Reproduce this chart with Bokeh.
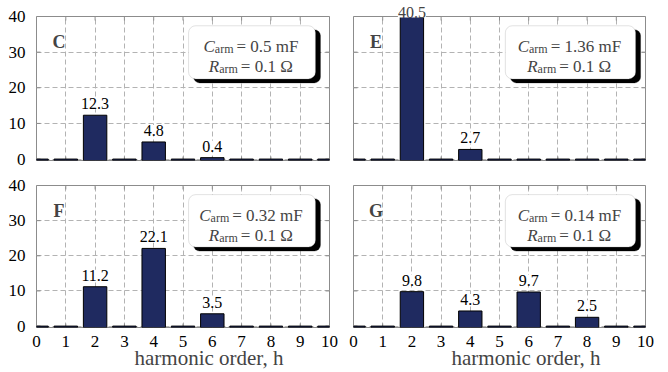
import numpy as np
from bokeh.plotting import figure
from bokeh.models import (ColumnDataSource, LabelSet, Label, BoxAnnotation,
                          FixedTicker, Range1d)
from bokeh.layouts import gridplot
from bokeh.embed import file_html
from bokeh.resources import INLINE
from bokeh.core.properties import value

# ---------------- data ----------------
harmonics = list(range(11))
y_ticks = [0, 10, 20, 30, 40]

panel_names = ["C", "E", "F", "G"]
c_arm = ["0.5", "1.36", "0.32", "0.14"]
r_arm = ["0.1", "0.1", "0.1", "0.1"]

amp_C = [0, 0, 12.3, 0, 4.8, 0, 0.4, 0, 0, 0, 0]
amp_E = [0, 0, 40.5, 0, 2.7, 0, 0, 0, 0, 0, 0]
amp_F = [0, 0, 11.2, 0, 22.1, 0, 3.5, 0, 0, 0, 0]
amp_G = [0, 0, 9.8, 0, 4.3, 0, 9.7, 0, 2.5, 0, 0]
amps_all = [amp_C, amp_E, amp_F, amp_G]

x_title = "harmonic order, h"

# ---------------- style ----------------
SERIF = "Liberation Serif"          # annotations
SERIF_Q = "'Liberation Serif'"      # axes and titles need the quoted name
BAR_FILL = "#1f2a60"
GRID = "#b3b3b3"
FRAME = "#8c8c8c"
BOX_LINE = "#a0a0a0"

X_MIN, X_MAX = 0, 10
Y_MIN, Y_MAX = -0.4, 40
TICK_LEN = 4

col_geom = [dict(width=338, left=36, right=9), dict(width=330, left=15, right=23)]
row_geom = [dict(height=172, top=16, bottom=12), dict(height=200, top=13, bottom=45)]

box_x = [(5.19, 9.52), (5.2, 9.66), (5.19, 9.52), (5.2, 9.66)]
BOX_Y = (22.5, 37.4)

EM = {str(d): 0.5 for d in range(10)}
EM.update({".": 0.25, " ": 0.25, "=": 0.564, "m": 0.778, "F": 0.556,
           "\u03a9": 0.768, "a": 0.444, "r": 0.333})
EM_IT = {"C": 0.667, "R": 0.611}


def tw(s, size, italic=False):
    table = EM_IT if italic else EM
    return sum(table.get(ch, EM.get(ch, 0.5)) for ch in s) * size


def make_panel(idx):
    row, col = divmod(idx, 2)
    cg, rg = col_geom[col], row_geom[row]
    name, amps = panel_names[idx], amps_all[idx]
    p = figure(width=cg["width"], height=rg["height"],
               x_range=Range1d(X_MIN, X_MAX), y_range=Range1d(Y_MIN, Y_MAX),
               output_backend="svg", toolbar_location=None, tools="",
               min_border_left=cg["left"], min_border_right=cg["right"],
               min_border_top=rg["top"], min_border_bottom=rg["bottom"],
               title_location=("below" if row == 1 else "above"))
    p.background_fill_color = "white"
    p.border_fill_color = "white"
    p.outline_line_color = FRAME
    p.outline_line_width = 1
    frame_w = cg["width"] - cg["left"] - cg["right"]
    frame_h = rg["height"] - rg["top"] - rg["bottom"]
    px_x = frame_w / (X_MAX - X_MIN)
    px_y = frame_h / (Y_MAX - Y_MIN)

    p.xaxis.ticker = FixedTicker(ticks=harmonics)
    p.yaxis.ticker = FixedTicker(ticks=y_ticks)
    for ax in p.axis:
        ax.axis_line_color = None
        ax.major_tick_line_color = None
        ax.minor_tick_line_color = None
        ax.major_label_text_font = SERIF_Q
        ax.major_label_text_font_size = "17px"
        ax.major_label_text_color = "black"
    p.xaxis.major_label_standoff = 2
    p.yaxis.major_label_standoff = 5
    if row == 0:
        p.xaxis.visible = False
    if col == 1:
        p.yaxis.visible = False

    p.xgrid.ticker = FixedTicker(ticks=harmonics)
    p.ygrid.ticker = FixedTicker(ticks=y_ticks)
    for g in p.xgrid + p.ygrid:
        g.grid_line_color = GRID
        g.grid_line_dash = "5 3"
        g.grid_line_width = 1

    # inward tick marks on all four sides, at the tick positions
    tx = np.array(harmonics, dtype=float)
    ty = np.array(y_ticks, dtype=float)
    dy_t = TICK_LEN / px_y
    dx_t = TICK_LEN / px_x
    p.segment(x0=np.concatenate([tx, tx]), x1=np.concatenate([tx, tx]),
              y0=np.concatenate([np.full_like(tx, Y_MIN), np.full_like(tx, Y_MAX)]),
              y1=np.concatenate([np.full_like(tx, Y_MIN + dy_t), np.full_like(tx, Y_MAX - dy_t)]),
              line_color=FRAME, line_width=1)
    p.segment(y0=np.concatenate([ty, ty]), y1=np.concatenate([ty, ty]),
              x0=np.concatenate([np.full_like(ty, X_MIN), np.full_like(ty, X_MAX)]),
              x1=np.concatenate([np.full_like(ty, X_MIN + dx_t), np.full_like(ty, X_MAX - dx_t)]),
              line_color=FRAME, line_width=1)

    src = ColumnDataSource(dict(h=harmonics, amp=amps))
    p.vbar(x="h", top="amp", bottom=Y_MIN, width=0.8, source=src,
           fill_color=BAR_FILL, line_color="black", line_width=1)

    in_h = [h for h, a in zip(harmonics, amps) if 0 < a <= Y_MAX]
    in_a = [a for a in amps if 0 < a <= Y_MAX]
    src_in = ColumnDataSource(dict(x=in_h, y=in_a, t=[f"{a:.1f}" for a in in_a]))
    p.add_layout(LabelSet(x="x", y="y", text="t", source=src_in,
                          text_font=value(SERIF), text_font_size=value("16px"),
                          text_color="black", text_align="center",
                          text_baseline="alphabetic", y_offset=6,
                          background_fill_color="white"))

    # a value beyond the axis range is written above the frame
    over = [(h, a) for h, a in zip(harmonics, amps) if a > Y_MAX]
    if over:
        h, a = over[0]
        txt = f"{a:.1f}"
        p.title.text = txt
        p.title.align = "left"
        p.title.offset = (h - X_MIN) * px_x - tw(txt, 16) / 2
        p.title.standoff = -2
        p.title.text_font = SERIF_Q
        p.title.text_font_size = "16px"
        p.title.text_font_style = "normal"
        p.title.background_fill_color = "white"

    if row == 1:
        p.title.text = x_title
        p.title.align = "left"
        p.title.offset = 98
        p.title.standoff = -11
        p.title.text_font = SERIF_Q
        p.title.text_font_size = "21px"
        p.title.text_font_style = "normal"

    p.add_layout(Label(x=0.77, y=Y_MAX, y_offset=-25, text=name,
                       text_font=SERIF, text_font_style="bold",
                       text_font_size="18px", text_align="center",
                       text_baseline="alphabetic"))

    l, r = box_x[idx]
    b, t = BOX_Y
    dx, dy = 5 / px_x, 4 / px_y
    p.add_layout(BoxAnnotation(left=l + dx, right=r + dx, bottom=b - dy, top=t - dy,
                               fill_color="black", fill_alpha=1.0,
                               line_color="black", border_radius=6))
    p.add_layout(BoxAnnotation(left=l, right=r, bottom=b, top=t,
                               fill_color="white", fill_alpha=1.0,
                               line_color=BOX_LINE, line_width=1, border_radius=7))
    cx = (l + r) / 2
    lines = [("C", f"= {c_arm[idx]} mF", -20.7), ("R", f"= {r_arm[idx]} \u03a9", -40.7)]
    for letter, rest, yo in lines:
        w_l = tw(letter, 17, italic=True)
        w_s = tw("arm", 12)
        w_r = tw(rest, 17)
        total = w_l + w_s + 3 + w_r
        x0 = -total / 2 - 1
        p.add_layout(Label(x=cx, y=t, x_offset=x0, y_offset=yo, text=letter,
                           text_font=SERIF, text_font_style="italic",
                           text_font_size="17px", text_align="left",
                           text_baseline="alphabetic"))
        p.add_layout(Label(x=cx, y=t, x_offset=x0 + w_l, y_offset=yo - 2.7, text="arm",
                           text_font=SERIF, text_font_size="12px", text_align="left",
                           text_baseline="alphabetic"))
        p.add_layout(Label(x=cx, y=t, x_offset=x0 + w_l + w_s + 3, y_offset=yo, text=rest,
                           text_font=SERIF, text_font_size="17px", text_align="left",
                           text_baseline="alphabetic"))
    return p


panels = [make_panel(i) for i in range(4)]
grid = gridplot([[panels[0], panels[1]], [panels[2], panels[3]]], toolbar_location=None)

open("out.html", "w").write(file_html(grid, INLINE, title="harmonics"))
